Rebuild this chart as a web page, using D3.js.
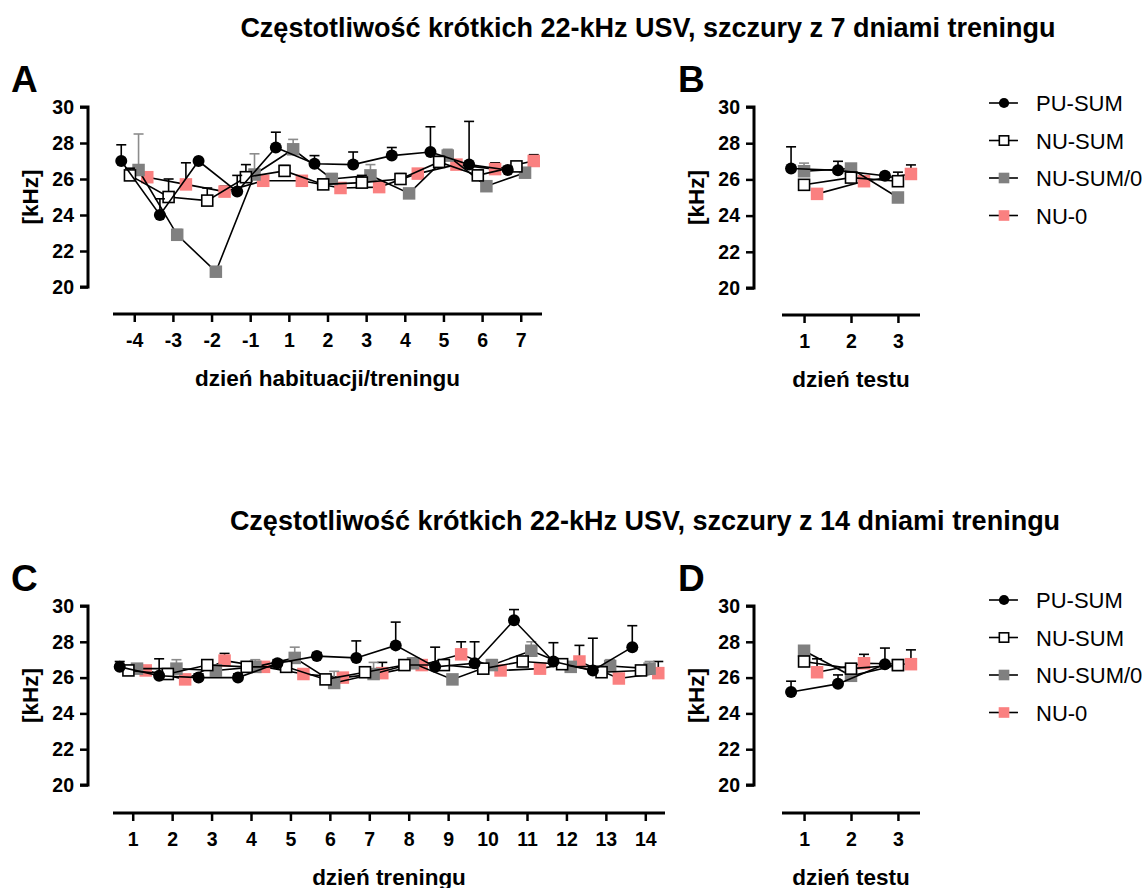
<!DOCTYPE html>
<html>
<head>
<meta charset="utf-8">
<script src="https://cdn.jsdelivr.net/npm/d3@7"></script>
<style>
body { margin: 0; background: #fff; }
svg text { font-family: "Liberation Sans", Arial, sans-serif; }
</style>
</head>
<body>
<svg id="chart" width="1145" height="888"></svg>
<script>
// ---- data ----
var seriesNames = ["PU-SUM", "NU-SUM", "NU-SUM/0", "NU-0"];
var daysA = ["-4", "-3", "-2", "-1", "1", "2", "3", "4", "5", "6", "7"];
var daysC = ["1", "2", "3", "4", "5", "6", "7", "8", "9", "10", "11", "12", "13", "14"];
var testDays = ["1", "2", "3"];
var yTicks = [20, 22, 24, 26, 28, 30];

// panel A (mean, sem)
var aPuSum     = [27.0, 24.0, 27.0, 25.3, 27.75, 26.85, 26.8, 27.3, 27.5, 26.8, 26.5];
var aPuSumErr  = [0.9, 0.9, 0.0, 0.9, 0.85, 0.45, 0.7, 0.45, 1.4, 2.4, 0.2];
var aNuSum     = [26.2, 25.0, 24.8, 26.1, 26.45, 25.7, 25.8, 26.0, 26.95, 26.2, 26.7];
var aNuSumErr  = [0.4, 1.0, 0.7, 0.7, 0.3, 0.3, 0.4, 0.3, 0.3, 0.3, 0.2];
var aNuSum0    = [26.5, 22.9, 20.85, 26.25, 27.65, 26.0, 26.2, 25.2, 27.3, 25.6, 26.35];
var aNuSum0Err = [2.0, 0.3, 0.2, 1.15, 0.55, 0.3, 0.6, 0.2, 0.35, 0.2, 0.2];
var aNu0       = [26.1, 25.7, 25.3, 25.9, 25.9, 25.5, 25.55, 26.3, 26.8, 26.55, 27.0];
var aNu0Err    = [0.3, 1.2, 0.3, 0.2, 0.2, 0.2, 0.2, 0.2, 0.2, 0.35, 0.35];

// panel B
var bPuSum     = [26.6, 26.5, 26.2];
var bPuSumErr  = [1.2, 0.5, 0.15];
var bNuSum     = [25.7, 26.1, 25.9];
var bNuSumErr  = [0.2, 0.2, 0.5];
var bNuSum0    = [26.45, 26.6, 25.0];
var bNuSum0Err = [0.45, 0.2, 0.2];
var bNu0       = [25.2, 25.9, 26.3];
var bNu0Err    = [0.2, 0.2, 0.5];

// panel C
var cPuSum     = [26.6, 26.1, 26.0, 26.0, 26.8, 27.2, 27.1, 27.8, 26.6, 26.8, 29.2, 26.9, 26.4, 27.7];
var cPuSumErr  = [0.3, 0.95, 0.2, 0.2, 0.2, 0.2, 0.95, 1.3, 1.1, 1.2, 0.6, 1.05, 1.8, 1.2];
var cNuSum     = [26.4, 26.2, 26.7, 26.6, 26.6, 25.9, 26.3, 26.7, 26.7, 26.5, 26.9, 26.75, 26.3, 26.4];
var cNuSumErr  = [0.2, 0.2, 0.2, 0.2, 0.2, 0.2, 0.2, 0.2, 0.3, 0.2, 0.2, 0.2, 0.2, 0.2];
var cNuSum0    = [26.5, 26.5, 26.4, 26.6, 27.1, 25.7, 26.2, 26.8, 25.9, 26.7, 27.5, 26.6, 26.65, 26.5];
var cNuSum0Err = [0.2, 0.5, 0.2, 0.4, 0.6, 0.65, 0.65, 0.3, 0.2, 0.3, 0.5, 0.2, 0.35, 0.4];
var cNu0       = [26.4, 25.9, 26.95, 26.6, 26.2, 26.0, 26.25, 26.7, 27.3, 26.4, 26.5, 26.9, 25.95, 26.25];
var cNu0Err    = [0.2, 0.2, 0.4, 0.2, 0.2, 0.2, 0.6, 0.2, 0.7, 0.2, 0.2, 0.9, 0.2, 0.65];

// panel D
var dPuSum     = [25.2, 25.65, 26.75];
var dPuSumErr  = [0.6, 0.5, 0.9];
var dNuSum     = [26.9, 26.5, 26.7];
var dNuSumErr  = [0.2, 0.2, 0.2];
var dNuSum0    = [27.5, 26.1, 26.7];
var dNuSum0Err = [0.2, 0.2, 0.2];
var dNu0       = [26.3, 26.8, 26.75];
var dNu0Err    = [0.75, 0.5, 0.8];

var titleTop = "Częstotliwość krótkich 22-kHz USV, szczury z 7 dniami treningu";
var titleBottom = "Częstotliwość krótkich 22-kHz USV, szczury z 14 dniami treningu";

// ---- styles ----
var styles = {
	"PU-SUM":   {shape: "circle", fill: "#000", stroke: "#000", err: "#000"},
	"NU-SUM":   {shape: "square", fill: "#fff", stroke: "#000", err: "#000"},
	"NU-SUM/0": {shape: "square", fill: "#808080", stroke: "none", err: "#8c8c8c"},
	"NU-0":     {shape: "square", fill: "#fa8080", stroke: "none", err: "#000"}
};

var svg = d3.select("#chart");

function panel(opt){
	var g = svg.append("g");
	var x = d3.scalePoint().domain(opt.days).range(opt.xRange).padding(opt.pad);
	var y = d3.scaleLinear().domain([20, 30]).range(opt.yRange);

	// y axis
	var yAxis = g.append("g")
		.attr("transform", "translate(" + opt.yAxisX + ",0)")
		.call(d3.axisLeft(y).tickValues(yTicks).tickSize(8).tickPadding(6));
	yAxis.select(".domain").attr("stroke-width", 3).attr("d", "M-8," + y(30) + "H0V" + y(20) + "H-8");
	yAxis.selectAll(".tick line").attr("stroke-width", 2.5);
	yAxis.selectAll(".tick text").attr("font-size", 19.5).attr("font-weight", "bold").attr("fill", "#000");

	// x axis
	var xAxis = g.append("g")
		.attr("transform", "translate(0," + opt.xAxisY + ")")
		.call(d3.axisBottom(x).tickSize(8).tickPadding(11));
	xAxis.select(".domain").attr("stroke-width", 3).attr("d", "M" + opt.xRange[0] + ",0H" + opt.xRange[1]);
	xAxis.selectAll(".tick line").attr("stroke-width", 2.5);
	xAxis.selectAll(".tick text").attr("font-size", 19.5).attr("font-weight", "bold").attr("fill", "#000");

	g.append("text")
		.attr("x", (opt.xRange[0] + opt.xRange[1]) / 2)
		.attr("y", opt.xAxisY + 72)
		.attr("text-anchor", "middle")
		.attr("font-size", 22.5).attr("font-weight", "bold")
		.text(opt.xTitle);

	g.append("text")
		.attr("transform", "translate(" + (opt.yAxisX - 50) + "," + ((opt.yRange[0] + opt.yRange[1]) / 2) + ") rotate(-90)")
		.attr("text-anchor", "middle")
		.attr("font-size", 22.5).attr("font-weight", "bold")
		.text("[kHz]");

	g.append("text")
		.attr("x", opt.letterX).attr("y", opt.yRange[1] - 15)
		.attr("font-size", 37).attr("font-weight", "bold")
		.text(opt.letter);

	// series drawn back to front
	for (var s = 3; s >= 0; s--) {
		var name = seriesNames[s];
		var st = styles[name];
		var off = opt.offsets[s];
		var pts = opt.days.map(function(d, i){
			return {x: x(d) + off, m: opt.means[s][i], e: opt.errs[s][i]};
		});
		var sg = g.append("g");
		sg.append("path")
			.attr("d", d3.line().x(function(d){ return d.x; }).y(function(d){ return y(d.m); })(pts))
			.attr("fill", "none").attr("stroke", "#000").attr("stroke-width", 1.6);
		pts.forEach(function(p){
			if (p.e <= 0) return;
			sg.append("line").attr("x1", p.x).attr("x2", p.x).attr("y1", y(p.m)).attr("y2", y(p.m + p.e))
				.attr("stroke", st.err).attr("stroke-width", 1.6);
			sg.append("line").attr("x1", p.x - 5).attr("x2", p.x + 5).attr("y1", y(p.m + p.e)).attr("y2", y(p.m + p.e))
				.attr("stroke", st.err).attr("stroke-width", 1.6);
		});
		pts.forEach(function(p){
			drawMarker(sg, st, p.x, y(p.m), 1);
		});
	}
}

function drawMarker(sel, st, cx, cy, k){
	if (st.shape == "circle") {
		sel.append("circle").attr("cx", cx).attr("cy", cy).attr("r", 6 * k).attr("fill", st.fill);
	} else if (st.stroke != "none") {
		var w = 11 * k;
		sel.append("rect").attr("x", cx - w / 2).attr("y", cy - w / 2).attr("width", w).attr("height", w)
			.attr("fill", st.fill).attr("stroke", st.stroke).attr("stroke-width", 1.6);
	} else {
		var w2 = 12.5 * k;
		sel.append("rect").attr("x", cx - w2 / 2).attr("y", cy - w2 / 2).attr("width", w2).attr("height", w2)
			.attr("fill", st.fill);
	}
}

function legend(top){
	var g = svg.append("g");
	seriesNames.forEach(function(name, i){
		var yy = top + i * 37.5;
		g.append("line").attr("x1", 989).attr("x2", 1018).attr("y1", yy).attr("y2", yy)
			.attr("stroke", "#000").attr("stroke-width", 1.6);
		drawMarker(g, styles[name], 1004, yy, 0.85);
		g.append("text").attr("x", 1036).attr("y", yy + 8)
			.attr("font-size", 22).text(name);
	});
}

svg.append("text").attr("x", 648).attr("y", 37).attr("text-anchor", "middle")
	.attr("font-size", 27).attr("font-weight", "bold").text(titleTop);
svg.append("text").attr("x", 645).attr("y", 530).attr("text-anchor", "middle")
	.attr("font-size", 27).attr("font-weight", "bold").text(titleBottom);

var wideOffsets = [-13, -4.3, 4.3, 13];
var testOffsets = [-13, 0, 0, 13];

panel({letter: "A", letterX: 11, days: daysA, xRange: [113, 542], pad: 0.55, yRange: [287, 107],
	yAxisX: 88, xAxisY: 314, xTitle: "dzień habituacji/treningu", offsets: wideOffsets,
	means: [aPuSum, aNuSum, aNuSum0, aNu0], errs: [aPuSumErr, aNuSumErr, aNuSum0Err, aNu0Err]});
panel({letter: "B", letterX: 678, days: testDays, xRange: [782, 920], pad: 0.47, yRange: [288, 107],
	yAxisX: 754, xAxisY: 315, xTitle: "dzień testu", offsets: testOffsets,
	means: [bPuSum, bNuSum, bNuSum0, bNu0], errs: [bPuSumErr, bNuSumErr, bNuSum0Err, bNu0Err]});
panel({letter: "C", letterX: 11, days: daysC, xRange: [113, 665], pad: 0.5, yRange: [785, 606],
	yAxisX: 88, xAxisY: 813, xTitle: "dzień treningu", offsets: wideOffsets,
	means: [cPuSum, cNuSum, cNuSum0, cNu0], errs: [cPuSumErr, cNuSumErr, cNuSum0Err, cNu0Err]});
panel({letter: "D", letterX: 678, days: testDays, xRange: [782, 920], pad: 0.47, yRange: [785, 606],
	yAxisX: 754, xAxisY: 813, xTitle: "dzień testu", offsets: testOffsets,
	means: [dPuSum, dNuSum, dNuSum0, dNu0], errs: [dPuSumErr, dNuSumErr, dNuSum0Err, dNu0Err]});

legend(103);
legend(600);
</script>
</body>
</html>
